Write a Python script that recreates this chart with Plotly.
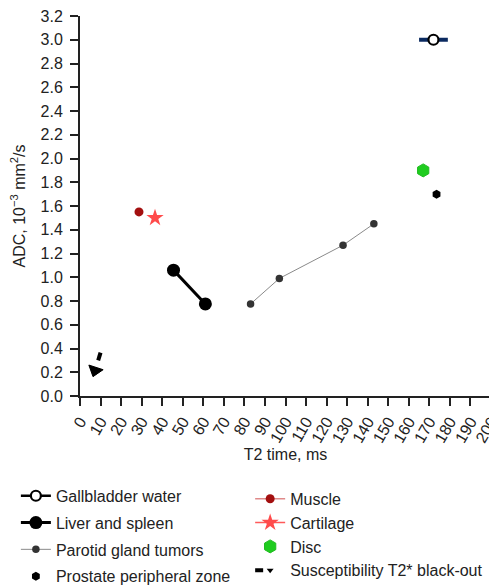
import plotly.graph_objects as go

# ---- data ----
gall_x = [172]; gall_y = [3.0]; gall_err = [7]
liver_x = [45.5, 61]; liver_y = [1.06, 0.775]
parotid_x = [83, 97, 128, 143]; parotid_y = [0.775, 0.99, 1.27, 1.45]
prostate_x = [173.5]; prostate_y = [1.70]
muscle_x = [28.7]; muscle_y = [1.55]
cart_x = [36.5]; cart_y = [1.50]
disc_x = [167]; disc_y = [1.90]
susc_x = [10.0, 7.3]; susc_y = [0.365, 0.215]

x_ticks = list(range(0, 201, 10))
y_ticks = [round(i * 0.2, 1) for i in range(17)]

FONT = "Liberation Sans, Arial, sans-serif"
TXT = "#222222"

fig = go.Figure()

fig.add_trace(go.Scatter(
    x=gall_x, y=gall_y, name="Gallbladder water", mode="lines+markers",
    line=dict(color="black", width=2.5),
    marker=dict(symbol="circle", size=10, color="white", line=dict(color="black", width=2.2)),
    error_x=dict(type="data", array=gall_err, color="#0b2a60", thickness=4, width=0),
    legend="legend", legendgroup="a"))
fig.add_trace(go.Scatter(
    x=liver_x, y=liver_y, name="Liver and spleen", mode="lines+markers",
    line=dict(color="black", width=3),
    marker=dict(symbol="circle", size=13, color="black"),
    legend="legend", legendgroup="b"))
fig.add_trace(go.Scatter(
    x=parotid_x, y=parotid_y, name="Parotid gland tumors", mode="lines+markers",
    line=dict(color="#8a8a8a", width=1),
    marker=dict(symbol="circle", size=7.5, color="#333333"),
    legend="legend", legendgroup="c"))
fig.add_trace(go.Scatter(
    x=prostate_x, y=prostate_y, name="Prostate peripheral zone", mode="markers",
    marker=dict(symbol="hexagon", size=9, color="black"),
    legend="legend", legendgroup="d"))

fig.add_trace(go.Scatter(
    x=muscle_x, y=muscle_y, name="Muscle", mode="lines+markers",
    line=dict(color="#e08a8a", width=1.5),
    marker=dict(symbol="circle", size=9, color="#a30f0f"),
    legend="legend2", legendgroup="e"))
fig.add_trace(go.Scatter(
    x=cart_x, y=cart_y, name="Cartilage", mode="lines+markers",
    line=dict(color="#ff5a5a", width=1.5),
    marker=dict(symbol="star", size=13, color="#ff4b4b"),
    legend="legend2", legendgroup="f"))
fig.add_trace(go.Scatter(
    x=disc_x, y=disc_y, name="Disc", mode="markers",
    marker=dict(symbol="hexagon", size=13, color="#1fcc1f",
                line=dict(color="#22bb22", width=1)),
    legend="legend2", legendgroup="g"))
fig.add_trace(go.Scatter(
    x=susc_x, y=susc_y, name="Susceptibility T2* black-out", mode="lines+markers",
    line=dict(color="black", width=4, dash="8px,30px"),
    marker=dict(symbol="triangle-down", size=[0, 12], color="#000000",
                angle=[0, 18], opacity=1, line=dict(width=0)),
    legend="legend2", legendgroup="h"))
# arrow head drawn again on top, solid black
fig.add_trace(go.Scatter(
    x=susc_x[1:], y=susc_y[1:], mode="markers", showlegend=False, hoverinfo="skip",
    marker=dict(symbol="triangle-down", size=13, color="#000000", angle=18,
                opacity=1, line=dict(width=1, color="#000000"))))

axis_common = dict(
    showline=True, linecolor=TXT, linewidth=2,
    ticks="outside", ticklen=8, tickwidth=2, tickcolor=TXT,
    showgrid=False, zeroline=False, automargin=False,
    ticklabeloverflow="allow",
    tickfont=dict(family=FONT, size=16, color=TXT),
)

fig.update_layout(
    width=489, height=577,
    margin=dict(l=72, r=6, t=8, b=189, autoexpand=False),
    paper_bgcolor="white", plot_bgcolor="white",
    font=dict(family=FONT, color=TXT),
    xaxis=dict(range=[-0.0001, 200.0001], tickvals=x_ticks, ticktext=[str(v) for v in x_ticks],
               tickangle=-60,
               title=dict(text="T2 time, ms", font=dict(family=FONT, size=16, color=TXT), standoff=4),
               **axis_common),
    yaxis=dict(range=[0, 3.2], tickvals=y_ticks, ticktext=[f"{v:.1f}" for v in y_ticks],
               ticklabelstandoff=4,
               title=dict(text="ADC, 10<sup>−3</sup> mm<sup>2</sup>/s", font=dict(family=FONT, size=16, color=TXT), standoff=11),
               **axis_common),
    legend=dict(x=-0.156, y=-0.218, xanchor="left", yanchor="top",
                font=dict(family=FONT, size=16, color=TXT),
                bgcolor="rgba(0,0,0,0)", traceorder="grouped", tracegroupgap=3,
                itemwidth=30),
    legend2=dict(x=0.414, y=-0.226, xanchor="left", yanchor="top",
                 font=dict(family=FONT, size=16, color=TXT),
                 bgcolor="rgba(0,0,0,0)", traceorder="grouped", tracegroupgap=0,
                 itemwidth=30),
)

fig.write_html("out.html")
